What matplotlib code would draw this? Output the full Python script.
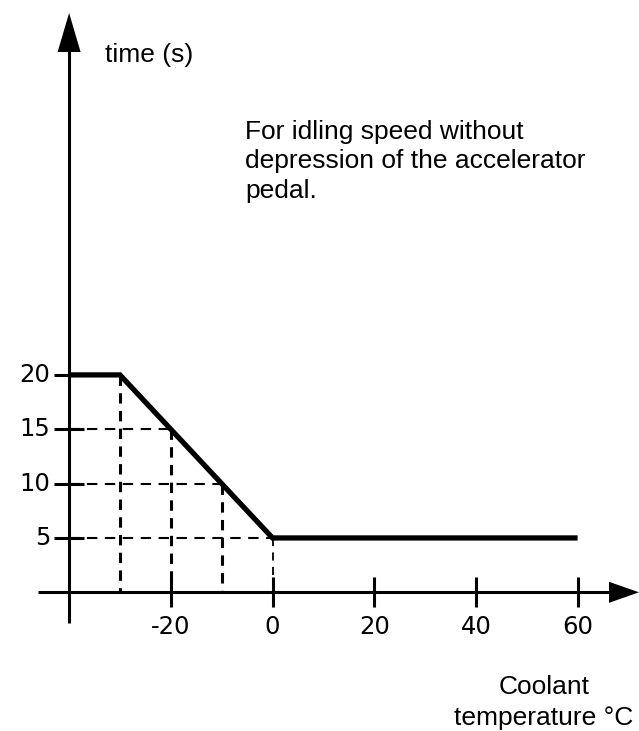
import matplotlib
matplotlib.use("Agg")
import matplotlib.pyplot as plt
from matplotlib.patches import Polygon

plt.rcParams['font.family'] = ['Liberation Sans', 'DejaVu Sans']

# Idle time vs coolant temperature
temp = [-40, -30, 0, 60]
idle_time = [20, 20, 5, 5]

# Reference (dashed) guide points on the sloped segment
guide_temp = [-30, -20, -10, 0]
guide_time = [20, 15, 10, 5]

x_ticks = [-20, 0, 20, 40, 60]
y_ticks = [5, 10, 15, 20]
x_tick_labels = ['-20', '0', '20', '40', '60']
y_tick_labels = ['5', '10', '15', '20']

W, H, DPI = 639, 731, 100
# pixel layout of the drawing: origin of the scale and pixels per unit
X0_PX, X_SCALE = 272.5, 5.085
Y0_PX, Y_SCALE = 592.3, 10.87


def dx(px):
    return px / X_SCALE


def dy(px):
    return px / Y_SCALE


fig = plt.figure(figsize=(W / DPI, H / DPI), dpi=DPI)
ax = fig.add_axes([0, 0, 1, 1])
ax.set_xlim(-X0_PX / X_SCALE, (W - X0_PX) / X_SCALE)
ax.set_ylim((Y0_PX - H) / Y_SCALE, Y0_PX / Y_SCALE)
ax.axis('off')

axis_x = temp[0]
axis_lw = 2.2
k = 'black'
tick_font = dict(fontsize=17.5, family=['DejaVu Sans'])

# vertical axis with arrow
y_top_tip = dy(Y0_PX - 13)
y_head_base = dy(Y0_PX - 52)
ax.plot([axis_x, axis_x], [dy(-31), y_head_base + 0.5], color=k, lw=axis_lw,
        solid_capstyle='butt')
ax.add_patch(Polygon([[axis_x - dx(11.5), y_head_base], [axis_x + dx(11.5), y_head_base],
                      [axis_x, y_top_tip]], closed=True, color=k, lw=0))

# horizontal axis with arrow
x_tip = dx(W - X0_PX)
x_head_base = dx(609 - X0_PX)
ax.plot([dx(38 - X0_PX), x_head_base + 0.5], [0, 0], color=k, lw=axis_lw,
        solid_capstyle='butt')
ax.add_patch(Polygon([[x_head_base, dy(10.5)], [x_head_base, -dy(10.5)],
                      [x_tip, 0]], closed=True, color=k, lw=0))

# tick marks
for t in x_ticks:
    ax.plot([t, t], [-dy(15), dy(15)], color=k, lw=axis_lw, solid_capstyle='butt')
for v in y_ticks:
    ax.plot([axis_x - dx(15), axis_x + dx(15)], [v, v], color=k, lw=axis_lw,
            solid_capstyle='butt')

# tick labels
for t, lab in zip(x_ticks, x_tick_labels):
    ax.text(t, -dy(35), lab, ha='center', va='center', **tick_font)
for v, lab in zip(y_ticks, y_tick_labels):
    ax.text(axis_x - dx(19), v, lab, ha='right', va='center', **tick_font)

# dashed guides
for t, v in zip(guide_temp, guide_time):
    if t == 0:
        ax.plot([t, t], [v, 0], color=k, lw=1.3, linestyle=(0, (4.5, 3.5)))
    else:
        ax.plot([t, t], [v, 0], color=k, lw=2.2, linestyle=(0, (3.4, 2.4)))
    if v < idle_time[0]:
        ax.plot([axis_x, t], [v, v], color=k, lw=1.5, linestyle=(0, (5.0, 3.6)))

# main curve
ax.plot(temp, idle_time, color=k, lw=3.8, solid_joinstyle='miter',
        solid_capstyle='butt')

# texts
ax.text(dx(105 - X0_PX), dy(Y0_PX - 55), 'time (s)', ha='left', va='center',
        fontsize=19)
note = ['For idling speed without', 'depression of the accelerator', 'pedal.']
for i, line in enumerate(note):
    ax.text(dx(245 - X0_PX), dy(Y0_PX - (132 + 29.5 * i)), line, ha='left',
            va='center', fontsize=19)
xlab = ['Coolant', 'temperature \u00b0C']
for i, line in enumerate(xlab):
    ax.text(dx(544 - X0_PX), dy(Y0_PX - (687 + 31 * i)), line, ha='center',
            va='center', fontsize=19)

fig.savefig('out.png', dpi=DPI)
